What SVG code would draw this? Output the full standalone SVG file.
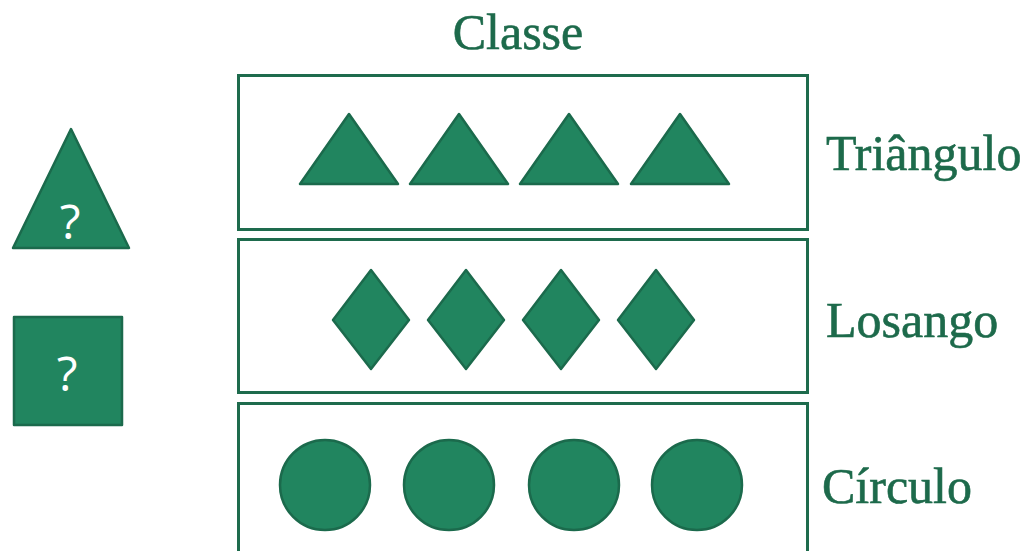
<svg xmlns="http://www.w3.org/2000/svg" width="1032" height="551" viewBox="0 0 1032 551">
<style>
.box{fill:none;stroke:#1e6b4d;stroke-width:3}
.sh{fill:#21855f;stroke:#1b6a4c;stroke-width:2.5;stroke-linejoin:round}
.lbl{font-family:"Liberation Serif",serif;font-size:50px;fill:#1d6a4b;stroke:#1d6a4b;stroke-width:0.6}
.q{font-family:"Open Sans","Liberation Sans",sans-serif;font-size:48px;fill:#ffffff;text-anchor:middle}
</style>
<rect width="1032" height="551" fill="#ffffff"/>
<text class="lbl" x="518" y="49" text-anchor="middle">Classe</text>
<g id="row-triangulo">
<rect class="box" x="238.5" y="75.5" width="569" height="154"/>
<polygon class="sh" points="300,184 349,114 398,184"/>
<polygon class="sh" points="410,184 459,114 508,184"/>
<polygon class="sh" points="520,184 569,114 618,184"/>
<polygon class="sh" points="631,184 680,114 729,184"/>
<text class="lbl" x="826" y="170">Triângulo</text>
</g>
<g id="row-losango">
<rect class="box" x="238.5" y="239.5" width="569" height="153"/>
<polygon class="sh" points="371,270 409,320 371,369 333,320"/>
<polygon class="sh" points="466,270 504,320 466,369 428,320"/>
<polygon class="sh" points="561,270 599,320 561,369 523,320"/>
<polygon class="sh" points="656,270 694,320 656,369 618,320"/>
<text class="lbl" x="826" y="337">Losango</text>
</g>
<g id="row-circulo">
<rect class="box" x="238.5" y="403.5" width="569" height="160"/>
<circle class="sh" cx="325" cy="485" r="45"/>
<circle class="sh" cx="449" cy="485" r="45"/>
<circle class="sh" cx="574" cy="485" r="45"/>
<circle class="sh" cx="697" cy="485" r="45"/>
<text class="lbl" x="822" y="503">Círculo</text>
</g>
<g id="unknown-triangle">
<polygon class="sh" points="13,248 71,129 129,248"/>
<text class="q" x="70" y="239">?</text>
</g>
<g id="unknown-square">
<rect class="sh" x="14" y="317" width="108" height="108"/>
<text class="q" x="67" y="391">?</text>
</g>
</svg>
